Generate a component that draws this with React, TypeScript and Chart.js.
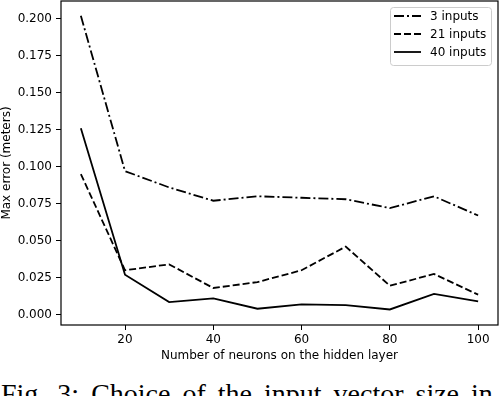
import React, { useEffect, useRef } from "react";
import { Chart, registerables } from "chart.js";

Chart.register(...registerables);

const NEURONS = [10, 20, 30, 40, 50, 60, 70, 80, 90, 100];
const INPUTS_3 = [0.202, 0.097, 0.086, 0.077, 0.080, 0.079, 0.078, 0.072, 0.080, 0.067];
const INPUTS_21 = [0.095, 0.030, 0.034, 0.018, 0.022, 0.030, 0.046, 0.0195, 0.0275, 0.0135];
const INPUTS_40 = [0.126, 0.027, 0.0085, 0.011, 0.004, 0.007, 0.0065, 0.0035, 0.014, 0.009];
const SERIES_LABELS = ["3 inputs", "21 inputs", "40 inputs"];
const X_TICKS = [20, 40, 60, 80, 100];
const Y_TICKS = [0, 0.025, 0.05, 0.075, 0.1, 0.125, 0.15, 0.175, 0.2];
const X_TITLE = "Number of neurons on the hidden layer";
const Y_TITLE = "Max error (meters)";
const CAPTION = "Fig. 3: Choice of the input vector size in";

const FONT = "'DejaVu Sans', sans-serif";

const framePlugin = {
  id: "frame",
  afterDatasetsDraw(chart: any) {
    const { ctx, chartArea } = chart;
    ctx.save();
    ctx.strokeStyle = "#000";
    ctx.lineWidth = 1.2;
    ctx.setLineDash([]);
    ctx.strokeRect(chartArea.left, chartArea.top, chartArea.right - chartArea.left, chartArea.bottom - chartArea.top);
    ctx.restore();
  },
};

const legendPlugin = {
  id: "mplLegend",
  afterDraw(chart: any) {
    const { ctx } = chart;
    const bx = 390.5, by = 7.5, bw = 101, bh = 58, r = 3;
    ctx.save();
    ctx.beginPath();
    ctx.moveTo(bx + r, by);
    ctx.lineTo(bx + bw - r, by);
    ctx.quadraticCurveTo(bx + bw, by, bx + bw, by + r);
    ctx.lineTo(bx + bw, by + bh - r);
    ctx.quadraticCurveTo(bx + bw, by + bh, bx + bw - r, by + bh);
    ctx.lineTo(bx + r, by + bh);
    ctx.quadraticCurveTo(bx, by + bh, bx, by + bh - r);
    ctx.lineTo(bx, by + r);
    ctx.quadraticCurveTo(bx, by, bx + r, by);
    ctx.closePath();
    ctx.fillStyle = "rgba(255,255,255,0.8)";
    ctx.fill();
    ctx.strokeStyle = "#cccccc";
    ctx.lineWidth = 1;
    ctx.stroke();
    chart.data.datasets.forEach((ds: any, i: number) => {
      const y = 16 + i * 18;
      ctx.beginPath();
      ctx.setLineDash(ds.borderDash || []);
      ctx.strokeStyle = "#000";
      ctx.lineWidth = ds.borderWidth;
      ctx.moveTo(394, y);
      ctx.lineTo(421, y);
      ctx.stroke();
      ctx.setLineDash([]);
      ctx.fillStyle = "#000";
      ctx.font = `12px ${FONT}`;
      ctx.textBaseline = "middle";
      ctx.textAlign = "left";
      ctx.fillText(ds.label, 430, y + 0.5);
    });
    ctx.restore();
  },
};

export default function App() {
  const ref = useRef<HTMLCanvasElement | null>(null);

  useEffect(() => {
    if (!ref.current) return;
    const mk = (vals: number[]) => NEURONS.map((x, i) => ({ x, y: vals[i] }));
    const chart = new Chart(ref.current, {
      type: "line",
      data: {
        datasets: [
          { label: SERIES_LABELS[0], data: mk(INPUTS_3), borderColor: "#000", borderWidth: 1.8, borderDash: [10, 3, 2, 3], pointRadius: 0, tension: 0, fill: false },
          { label: SERIES_LABELS[1], data: mk(INPUTS_21), borderColor: "#000", borderWidth: 1.8, borderDash: [7, 3], pointRadius: 0, tension: 0, fill: false },
          { label: SERIES_LABELS[2], data: mk(INPUTS_40), borderColor: "#000", borderWidth: 1.8, borderDash: [], pointRadius: 0, tension: 0, fill: false },
        ],
      },
      options: {
        responsive: false,
        animation: false,
        devicePixelRatio: 1,
        layout: { padding: { left: 0, top: 1, right: 2, bottom: 0 } },
        plugins: { legend: { display: false }, tooltip: { enabled: false } },
        scales: {
          x: {
            type: "linear",
            min: 5.5,
            max: 104.5,
            afterBuildTicks: (s: any) => { s.ticks = X_TICKS.map((v) => ({ value: v })); },
            afterFit: (s: any) => { s.height = 45; s.paddingLeft = 0; s.paddingRight = 0; },
            ticks: { color: "#000", font: { family: FONT, size: 12 }, padding: 3, maxRotation: 0, callback: (v: any) => String(v) },
            grid: { display: true, drawOnChartArea: false, drawTicks: true, tickLength: 5, color: "#000", lineWidth: 1 },
            border: { display: false },
            title: { display: true, text: X_TITLE, color: "#000", font: { family: FONT, size: 12 }, padding: { top: 0, bottom: 6.8 } },
          },
          y: {
            type: "linear",
            min: -0.007,
            max: 0.212,
            afterBuildTicks: (s: any) => { s.ticks = Y_TICKS.map((v) => ({ value: v })); },
            afterFit: (s: any) => { s.width = 61; s.paddingTop = 0; s.paddingBottom = 0; },
            ticks: { color: "#000", font: { family: FONT, size: 12 }, padding: 4, callback: (v: any) => Number(v).toFixed(3) },
            grid: { display: true, drawOnChartArea: false, drawTicks: true, tickLength: 5, color: "#000", lineWidth: 1 },
            border: { display: false },
            title: { display: true, text: Y_TITLE, color: "#000", font: { family: FONT, size: 12 }, padding: { top: 0, bottom: 0 } },
          },
        },
      },
      plugins: [framePlugin, legendPlugin],
    });
    return () => chart.destroy();
  }, []);

  return (
    <div style={{ position: "fixed", left: 0, top: 0, width: 500, height: 396, overflow: "hidden", background: "#fff" }}>
      <canvas ref={ref} width={500} height={370} style={{ position: "absolute", left: 0, top: 0, width: 500, height: 370 }} />
      <div
        style={{
          position: "absolute",
          left: 1,
          top: 380,
          fontFamily: "'Liberation Serif', 'Times New Roman', serif",
          fontSize: 28,
          lineHeight: "28px",
          wordSpacing: 5,
          whiteSpace: "nowrap",
          color: "#000",
        }}
      >
        {CAPTION}
      </div>
    </div>
  );
}
